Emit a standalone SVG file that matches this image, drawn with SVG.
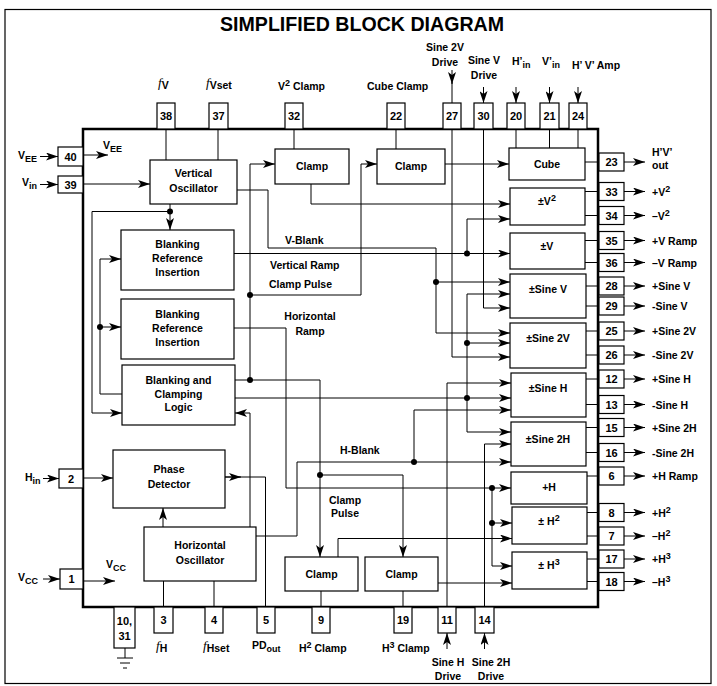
<svg xmlns="http://www.w3.org/2000/svg" width="717" height="686" viewBox="0 0 717 686">
<style>
text{font-family:"Liberation Sans",Arial,sans-serif;font-size:10.5px;font-weight:bold;fill:#000}
.c{text-anchor:middle}
.pn{text-anchor:middle;font-size:11px}
.blk{fill:#fff;stroke:#000;stroke-width:1.2}
.pin{fill:#fff;stroke:#000;stroke-width:1.2}
.w{fill:none;stroke:#000;stroke-width:1}
.wa{fill:none;stroke:#000;stroke-width:1;marker-end:url(#a)}
.d{fill:#000}
.fi{font-family:"Liberation Serif","Times New Roman",serif;font-style:italic;font-weight:normal;font-size:13px}
</style>
<defs>
<marker id="a" viewBox="0 0 12 8" refX="12" refY="4" markerWidth="12" markerHeight="8" markerUnits="userSpaceOnUse" orient="auto"><path d="M0,0 L12,4 L0,8 L3,4 z" fill="#000"/></marker>
</defs>
<rect x="5" y="9.5" width="706" height="674" fill="none" stroke="#000" stroke-width="1.2"/>
<text x="362" y="31" class="c" style="font-size:20px;font-weight:bold" textLength="284" lengthAdjust="spacingAndGlyphs">SIMPLIFIED BLOCK DIAGRAM</text>
<g id="chip"><rect x="83" y="129" width="515" height="478" fill="none" stroke="#000" stroke-width="2.5"/>
<text x="103" y="149">V<tspan dy="3" font-size="9">EE</tspan></text>
<text x="106" y="568">V<tspan dy="3" font-size="9">CC</tspan></text>
</g>
<g id="connectors">
<path class="wa" d="M40,156.5 H58"/>
<path class="wa" d="M40,184.5 H58"/>
<path class="wa" d="M43,478.5 H59"/>
<path class="wa" d="M43,579 H60"/>
<path class="wa" d="M83,155 H108"/>
<path class="wa" d="M83,581 H115"/>
<path class="wa" d="M83,184 H150"/>
<path class="w" d="M166,129 V160 M218,129 V160 M294,129 V149 M396,129 V149 M516,129 V148 M549.5,129 V148 M578,129 V148"/>
<path class="wa" d="M452,70 V84"/><path class="w" d="M452,82 V103"/>
<path class="wa" d="M483.5,87 V103"/>
<path class="wa" d="M516,87 V103"/>
<path class="wa" d="M549.5,87 V103"/>
<path class="wa" d="M578,87 V103"/>
<path class="wa" d="M447,649 V633"/>
<path class="wa" d="M484.5,649 V633"/>
<path class="wa" d="M452,129 V357 H510"/>
<path class="wa" d="M483.5,129 V308 H510"/>
<path class="wa" d="M311,184 V204 H510"/>
<path class="wa" d="M445,164 H509"/>
<path class="w" d="M235,380 H320 V475"/>
<path class="wa" d="M320,475 V557"/>
<path class="wa" d="M320,475 H403 V557"/>
<path class="wa" d="M250,380 V164 H275"/>
<path class="wa" d="M250,295 H361 V164 H377"/>
<path class="wa" d="M237,190 H268 V248 H436 V333 H510"/>
<path class="wa" d="M436,282 H510"/>
<path class="wa" d="M234,253.5 H510"/>
<path class="wa" d="M467,253.5 V219 H510"/>
<path class="wa" d="M235,398 H511"/>
<path class="wa" d="M467,294 V432 H511"/>
<path class="wa" d="M467,294 H510"/>
<path class="wa" d="M467,343 H510"/>
<path class="wa" d="M447,607 V383 H511"/>
<path class="wa" d="M484.5,607 V444 H511"/>
<path class="wa" d="M256,536 H297 V462 H511"/>
<path class="wa" d="M414,462 V410 H511"/>
<path class="wa" d="M234,328 H286 V488 H511"/>
<path class="wa" d="M492,488 V566 H512"/>
<path class="wa" d="M492,523 H512"/>
<path class="wa" d="M338,557 V538.5 H512"/>
<path class="wa" d="M438,583 H512"/>
<path class="w" d="M321,591 V607 M403,591 V607 M163.5,581 V607 M214,581 V607"/>
<path class="wa" d="M170,204 V230"/>
<path class="wa" d="M170,211.5 H92 V413 H122"/>
<path class="wa" d="M122,394 H100 V259 H121"/>
<path class="wa" d="M100,327 H121"/>
<path class="wa" d="M83,478 H113"/>
<path class="wa" d="M163,527 V508"/>
<path class="w" d="M225,477 H265.5 V607"/>
<path class="wa" d="M225,477 H241"/>
<path class="wa" d="M250,527 V413 H235"/>
<path class="w" d="M585,162 H599 M585,191.5 H599 M585,215.5 H599 M585,240.5 H599 M585,262.5 H599 M586,286 H599 M586,306 H599 M586,331 H599 M586,355 H599 M586,379 H599 M586,404.5 H599 M586,427.5 H599 M586,452.5 H599 M587,476 H599 M587,512.5 H599 M587,536 H599 M587,559 H599 M587,581.5 H599"/>
<path class="wa" d="M624,162 H645"/><path class="wa" d="M624,191.5 H645"/><path class="wa" d="M624,215.5 H645"/><path class="wa" d="M624,240.5 H645"/><path class="wa" d="M624,262.5 H645"/><path class="wa" d="M624,286 H645"/><path class="wa" d="M624,306 H645"/><path class="wa" d="M624,331 H645"/><path class="wa" d="M624,355 H645"/><path class="wa" d="M624,379 H645"/><path class="wa" d="M624,404.5 H645"/><path class="wa" d="M624,427.5 H645"/><path class="wa" d="M624,452.5 H645"/><path class="wa" d="M624,476 H645"/><path class="wa" d="M624,512.5 H645"/><path class="wa" d="M624,536 H645"/><path class="wa" d="M624,559 H645"/><path class="wa" d="M624,581.5 H645"/>
<circle class="d" cx="250" cy="380" r="3"/><circle class="d" cx="250" cy="295" r="3"/><circle class="d" cx="320" cy="475" r="3"/>
<circle class="d" cx="436" cy="282" r="3"/><circle class="d" cx="467" cy="253.5" r="3"/><circle class="d" cx="467" cy="343" r="3"/><circle class="d" cx="467" cy="398" r="3"/>
<circle class="d" cx="414" cy="462" r="3"/><circle class="d" cx="492" cy="488" r="3"/><circle class="d" cx="492" cy="523" r="3"/>
<circle class="d" cx="170" cy="211.5" r="3"/><circle class="d" cx="100" cy="327" r="3"/>
<text x="285" y="244">V-Blank</text>
<text x="270" y="269">Vertical Ramp</text>
<text x="269" y="288">Clamp Pulse</text>
<text x="310" y="320" class="c">Horizontal</text>
<text x="310" y="335" class="c">Ramp</text>
<text x="340" y="454">H-Blank</text>
<text x="345" y="504" class="c">Clamp</text>
<text x="345" y="517" class="c">Pulse</text>
</g>
<g id="vosc"><rect class="blk" x="150" y="160" width="87" height="44"/><text x="193.5" y="177" class="c">Vertical</text><text x="193.5" y="192" class="c">Oscillator</text></g>
<g id="clampV2"><rect class="blk" x="275" y="149" width="74" height="35"/><text x="312" y="170" class="c">Clamp</text></g>
<g id="clampCube"><rect class="blk" x="377" y="149" width="68" height="35"/><text x="411" y="170" class="c">Clamp</text></g>
<g id="cube"><rect class="blk" x="509" y="148" width="76" height="32"/><text x="547" y="168" class="c">Cube</text></g>
<g id="pmV2"><rect class="blk" x="510" y="188" width="75" height="37"/><text x="547" y="205" class="c">±V<tspan dy="-4" font-size="9">2</tspan></text></g>
<g id="pmV"><rect class="blk" x="510" y="233" width="75" height="36"/><text x="547" y="250" class="c">±V</text></g>
<g id="pmSineV"><rect class="blk" x="510" y="274" width="76" height="44"/><text x="548" y="293" class="c">±Sine V</text></g>
<g id="pmSine2V"><rect class="blk" x="510" y="323" width="76" height="45"/><text x="548" y="342" class="c">±Sine 2V</text></g>
<g id="pmSineH"><rect class="blk" x="511" y="373" width="75" height="44"/><text x="548" y="392" class="c">±Sine H</text></g>
<g id="pmSine2H"><rect class="blk" x="511" y="422" width="75" height="44"/><text x="548" y="443" class="c">±Sine 2H</text></g>
<g id="plusH"><rect class="blk" x="511" y="472" width="76" height="32"/><text x="549" y="491" class="c">+H</text></g>
<g id="pmH2"><rect class="blk" x="512" y="507" width="75" height="37"/><text x="549" y="525" class="c">± H<tspan dy="-4" font-size="9">2</tspan></text></g>
<g id="pmH3"><rect class="blk" x="512" y="552" width="75" height="37"/><text x="549" y="569" class="c">± H<tspan dy="-4" font-size="9">3</tspan></text></g>
<g id="bri1"><rect class="blk" x="121" y="230" width="113" height="60"/><text x="177.5" y="248" class="c">Blanking</text><text x="177.5" y="262" class="c">Reference</text><text x="177.5" y="276" class="c">Insertion</text></g>
<g id="bri2"><rect class="blk" x="121" y="299" width="113" height="60"/><text x="177.5" y="318" class="c">Blanking</text><text x="177.5" y="332" class="c">Reference</text><text x="177.5" y="346" class="c">Insertion</text></g>
<g id="bcl"><rect class="blk" x="122" y="365" width="113" height="60"/><text x="178.5" y="384" class="c">Blanking and</text><text x="178.5" y="398" class="c">Clamping</text><text x="178.5" y="411" class="c">Logic</text></g>
<g id="pd"><rect class="blk" x="113" y="450" width="112" height="58"/><text x="169" y="473" class="c">Phase</text><text x="169" y="488" class="c">Detector</text></g>
<g id="hosc"><rect class="blk" x="144" y="527" width="112" height="54"/><text x="200" y="549" class="c">Horizontal</text><text x="200" y="564" class="c">Oscillator</text></g>
<g id="clampH2"><rect class="blk" x="285" y="557" width="73" height="34"/><text x="321.5" y="578" class="c">Clamp</text></g>
<g id="clampH3"><rect class="blk" x="365" y="557" width="73" height="34"/><text x="401.5" y="578" class="c">Clamp</text></g>
<g id="pin40"><rect class="pin" x="58" y="147" width="25" height="19"/><text x="70.5" y="161" class="pn">40</text><text x="18" y="159">V<tspan dy="3" font-size="9">EE</tspan></text></g>
<g id="pin39"><rect class="pin" x="58" y="176" width="25" height="17"/><text x="70.5" y="189" class="pn">39</text><text x="22" y="186">V<tspan dy="3" font-size="9">in</tspan></text></g>
<g id="pin2"><rect class="pin" x="59" y="469" width="24" height="19"/><text x="71" y="483" class="pn">2</text><text x="25" y="481">H<tspan dy="3" font-size="9">in</tspan></text></g>
<g id="pin1"><rect class="pin" x="60" y="569" width="23" height="20"/><text x="71.5" y="583" class="pn">1</text><text x="18" y="581">V<tspan dy="3" font-size="9">CC</tspan></text></g>
<g id="pin38"><rect class="pin" x="157" y="103" width="18" height="26"/><text x="166" y="120" class="pn">38</text><text x="158" y="87"><tspan class="fi">f</tspan><tspan dy="2">V</tspan></text></g>
<g id="pin37"><rect class="pin" x="209" y="103" width="19" height="26"/><text x="218.5" y="120" class="pn">37</text><text x="206" y="87"><tspan class="fi">f</tspan><tspan dy="2">Vset</tspan></text></g>
<g id="pin32"><rect class="pin" x="285" y="103" width="18" height="26"/><text x="294" y="120" class="pn">32</text><text x="278" y="90">V<tspan dy="-4" font-size="9">2</tspan><tspan dy="4"> Clamp</tspan></text></g>
<g id="pin22"><rect class="pin" x="387" y="103" width="18" height="26"/><text x="396" y="120" class="pn">22</text><text x="367" y="90">Cube Clamp</text></g>
<g id="pin27"><rect class="pin" x="443" y="103" width="18" height="26"/><text x="452" y="120" class="pn">27</text><text x="445" y="51" class="c">Sine 2V</text><text x="445" y="66" class="c">Drive</text></g>
<g id="pin30"><rect class="pin" x="474" y="103" width="19" height="26"/><text x="483.5" y="120" class="pn">30</text><text x="484" y="64" class="c">Sine V</text><text x="484" y="79" class="c">Drive</text></g>
<g id="pin20"><rect class="pin" x="507" y="103" width="18" height="26"/><text x="516" y="120" class="pn">20</text><text x="512" y="65">H’<tspan dy="3" font-size="9">in</tspan></text></g>
<g id="pin21"><rect class="pin" x="540" y="103" width="19" height="26"/><text x="549.5" y="120" class="pn">21</text><text x="542" y="65">V’<tspan dy="3" font-size="9">in</tspan></text></g>
<g id="pin24"><rect class="pin" x="569" y="103" width="18" height="26"/><text x="578" y="120" class="pn">24</text><text x="572" y="69">H’ V’ Amp</text></g>
<g id="pin1031"><rect class="pin" x="114" y="607" width="21" height="41"/><text x="124.5" y="625" class="pn">10,</text><text x="124.5" y="640" class="pn">31</text><path class="w" d="M125,648 V658 M117,658 H133 M120,663 H130 M123,668 H127"/></g>
<g id="pin3"><rect class="pin" x="154" y="607" width="19" height="26"/><text x="163.5" y="624" class="pn">3</text><text x="156" y="650"><tspan class="fi">f</tspan><tspan dy="2">H</tspan></text></g>
<g id="pin4"><rect class="pin" x="205" y="607" width="18" height="26"/><text x="214" y="624" class="pn">4</text><text x="203" y="650"><tspan class="fi">f</tspan><tspan dy="2">Hset</tspan></text></g>
<g id="pin5"><rect class="pin" x="257" y="607" width="18" height="26"/><text x="266" y="624" class="pn">5</text><text x="252" y="649">PD<tspan dy="3" font-size="9">out</tspan></text></g>
<g id="pin9"><rect class="pin" x="312" y="607" width="18" height="26"/><text x="321" y="624" class="pn">9</text><text x="299" y="652">H<tspan dy="-4" font-size="9">2</tspan><tspan dy="4"> Clamp</tspan></text></g>
<g id="pin19"><rect class="pin" x="394" y="607" width="18" height="26"/><text x="403" y="624" class="pn">19</text><text x="382" y="652">H<tspan dy="-4" font-size="9">3</tspan><tspan dy="4"> Clamp</tspan></text></g>
<g id="pin11"><rect class="pin" x="438" y="607" width="18" height="26"/><text x="447" y="624" class="pn">11</text><text x="448" y="666" class="c">Sine H</text><text x="448" y="680" class="c">Drive</text></g>
<g id="pin14"><rect class="pin" x="475" y="607" width="19" height="26"/><text x="484.5" y="624" class="pn">14</text><text x="491" y="666" class="c">Sine 2H</text><text x="491" y="680" class="c">Drive</text></g>
<g id="pin23"><rect class="pin" x="599" y="153" width="25" height="18"/><text x="611.5" y="166" class="pn">23</text><text x="652" y="156">H’V’</text><text x="652" y="169">out</text></g>
<g id="pin33"><rect class="pin" x="599" y="182.5" width="25" height="18"/><text x="611.5" y="195.5" class="pn">33</text><text x="652" y="195.5">+V<tspan dy="-4" font-size="9">2</tspan></text></g>
<g id="pin34"><rect class="pin" x="599" y="206.5" width="25" height="18"/><text x="611.5" y="219.5" class="pn">34</text><text x="652" y="219.5">–V<tspan dy="-4" font-size="9">2</tspan></text></g>
<g id="pin35"><rect class="pin" x="599" y="231.5" width="25" height="18"/><text x="611.5" y="244.5" class="pn">35</text><text x="652" y="244.5">+V Ramp</text></g>
<g id="pin36"><rect class="pin" x="599" y="253.5" width="25" height="18"/><text x="611.5" y="266.5" class="pn">36</text><text x="652" y="266.5">–V Ramp</text></g>
<g id="pin28"><rect class="pin" x="599" y="277" width="25" height="18"/><text x="611.5" y="290" class="pn">28</text><text x="652" y="290">+Sine V</text></g>
<g id="pin29"><rect class="pin" x="599" y="297" width="25" height="18"/><text x="611.5" y="310" class="pn">29</text><text x="652" y="310">-Sine V</text></g>
<g id="pin25"><rect class="pin" x="599" y="322" width="25" height="18"/><text x="611.5" y="335" class="pn">25</text><text x="652" y="335">+Sine 2V</text></g>
<g id="pin26"><rect class="pin" x="599" y="346" width="25" height="18"/><text x="611.5" y="359" class="pn">26</text><text x="652" y="359">-Sine 2V</text></g>
<g id="pin12"><rect class="pin" x="599" y="370" width="25" height="18"/><text x="611.5" y="383" class="pn">12</text><text x="652" y="383">+Sine H</text></g>
<g id="pin13"><rect class="pin" x="599" y="395.5" width="25" height="18"/><text x="611.5" y="408.5" class="pn">13</text><text x="652" y="408.5">-Sine H</text></g>
<g id="pin15"><rect class="pin" x="599" y="418.5" width="25" height="18"/><text x="611.5" y="431.5" class="pn">15</text><text x="652" y="431.5">+Sine 2H</text></g>
<g id="pin16"><rect class="pin" x="599" y="443.5" width="25" height="18"/><text x="611.5" y="456.5" class="pn">16</text><text x="652" y="456.5">-Sine 2H</text></g>
<g id="pin6"><rect class="pin" x="599" y="467" width="25" height="18"/><text x="611.5" y="480" class="pn">6</text><text x="652" y="480">+H Ramp</text></g>
<g id="pin8"><rect class="pin" x="599" y="503.5" width="25" height="18"/><text x="611.5" y="516.5" class="pn">8</text><text x="652" y="516.5">+H<tspan dy="-4" font-size="9">2</tspan></text></g>
<g id="pin7"><rect class="pin" x="599" y="527" width="25" height="18"/><text x="611.5" y="540" class="pn">7</text><text x="652" y="540">–H<tspan dy="-4" font-size="9">2</tspan></text></g>
<g id="pin17"><rect class="pin" x="599" y="550" width="25" height="18"/><text x="611.5" y="563" class="pn">17</text><text x="652" y="563">+H<tspan dy="-4" font-size="9">3</tspan></text></g>
<g id="pin18"><rect class="pin" x="599" y="572.5" width="25" height="18"/><text x="611.5" y="585.5" class="pn">18</text><text x="652" y="585.5">–H<tspan dy="-4" font-size="9">3</tspan></text></g>
</svg>
